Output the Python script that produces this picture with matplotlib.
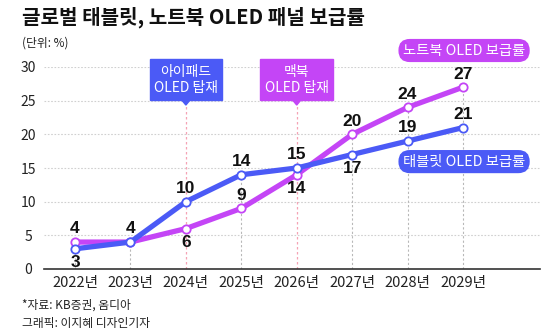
import matplotlib.pyplot as plt
from matplotlib.patches import Rectangle, Polygon

plt.rcParams['font.family'] = ['Noto Sans CJK KR', 'DejaVu Sans']

years = ['2022년', '2023년', '2024년', '2025년', '2026년', '2027년', '2028년', '2029년']
tablet = [3, 4, 10, 14, 15, 17, 19, 21]
notebook = [4, 4, 6, 9, 14, 20, 24, 27]
# where the value label sits relative to the point (None = shared label)
tablet_pos = ['below', 'above', 'above', 'above', 'above', 'below', 'above', 'above']
notebook_pos = ['above', None, 'below', 'above', 'below', 'above', 'above', 'above']
yticks = [0, 5, 10, 15, 20, 25, 30]

BLUE = '#4b5af6'
PURPLE = '#c445f6'
NUM_FONT = ['Liberation Sans Narrow', 'Liberation Sans', 'DejaVu Sans']

callouts = [(2, '아이패드\nOLED 탑재', BLUE), (4, '맥북\nOLED 탑재', PURPLE)]

fig = plt.figure(figsize=(5.6, 3.34), dpi=100)
ax = fig.add_axes([44 / 560, 65 / 334, 496 / 560, 202 / 334])
x = list(range(len(years)))
ax.set_xlim(-0.56, 8.39)
ax.set_ylim(0, 30)

for s in ['top', 'right', 'left']:
    ax.spines[s].set_visible(False)
ax.spines['bottom'].set_color('#333333')
ax.spines['bottom'].set_linewidth(1.2)

# grid
for yv in yticks[1:]:
    ax.axhline(yv, color='#d0d0d0', lw=0.8, ls=(0, (1.5, 1.5)), zorder=0)
callout_idx = [c[0] for c in callouts]
for i in x:
    if i in callout_idx:
        continue
    ax.plot([i, i], [0, max(tablet[i], notebook[i])], color='#b8b8b8', lw=0.8,
            ls=(0, (2, 2)), zorder=1)

# lines
ax.plot(x, notebook, color=PURPLE, lw=3.8, zorder=3, solid_capstyle='round')
ax.plot(x, notebook, 'o', ms=6, mfc='white', mec=PURPLE, mew=1.3, zorder=4)
ax.plot(x, tablet, color=BLUE, lw=3.8, zorder=5, solid_capstyle='round')
ax.plot(x, tablet, 'o', ms=6, mfc='white', mec=BLUE, mew=1.3, zorder=6)


def put_labels(vals, pos):
    for i, (v, p) in enumerate(zip(vals, pos)):
        if p is None:
            continue
        off = 9.5 if p == 'above' else -10
        ax.annotate(str(v), (i, v), xytext=(0, off), textcoords='offset points',
                    ha='center', va='center', fontsize=12.5, fontweight='bold',
                    family=NUM_FONT, color='#111111', zorder=7)


put_labels(tablet, tablet_pos)
put_labels(notebook, notebook_pos)

# callouts
for i, txt, col in callouts:
    ax.plot([i, i], [0, 24.4], color='#f5a3b5', lw=0.9, ls=(0, (2, 2)), zorder=1)
    ax.add_patch(Rectangle((i - 0.655, 25.1), 1.31, 6.05, color=col,
                           clip_on=False, zorder=8))
    ax.add_patch(Polygon([[i - 0.08, 25.15], [i + 0.08, 25.15], [i, 24.35]],
                         color=col, clip_on=False, zorder=8))
    ax.text(i, 28.1, txt, ha='center', va='center', color='white', fontsize=10,
            linespacing=1.2, zorder=9)

# legend pills
pill = dict(boxstyle='round,pad=0.32,rounding_size=0.8', ec='none')
ax.text(7.02, 32.45, '노트북 OLED 보급률', ha='center', va='center', color='white',
        fontsize=10.3, zorder=9, bbox=dict(pill, fc=PURPLE))
ax.text(7.02, 15.95, '태블릿 OLED 보급률', ha='center', va='center', color='white',
        fontsize=10.3, zorder=9, bbox=dict(pill, fc=BLUE))

ax.set_xticks(x)
ax.set_xticklabels(years, fontsize=10.5, color='#222222')
ax.set_yticks(yticks)
ax.set_yticklabels([str(t) for t in yticks], fontsize=10, color='#222222', ha='center')
ax.tick_params(axis='x', length=0, pad=5)
ax.tick_params(axis='y', length=0, pad=11.5)

fig.text(22 / 560, 1 - 17 / 334, '글로벌 태블릿, 노트북 OLED 패널 보급률', fontsize=14.5,
         fontweight='bold', va='center', ha='left', color='#111111')
fig.text(22 / 560, 1 - 43 / 334, '(단위: %)', fontsize=8.5, va='center', ha='left',
         color='#222222')
fig.text(22 / 560, 1 - 305 / 334, '*자료: KB증권, 옴디아', fontsize=8.5, va='center',
         ha='left', color='#222222')
fig.text(22 / 560, 1 - 323 / 334, '그래픽: 이지혜 디자인기자', fontsize=8.5, va='center',
         ha='left', color='#222222')

fig.savefig('out.png', dpi=100)
